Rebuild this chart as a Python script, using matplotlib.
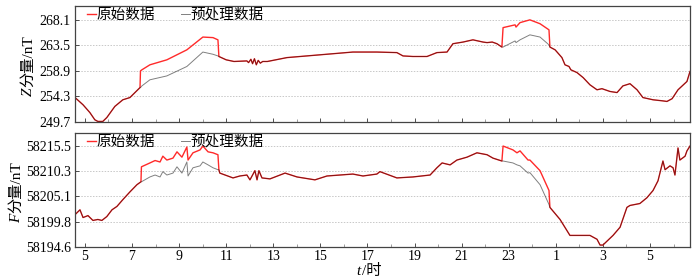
import matplotlib
matplotlib.use("Agg")
import matplotlib.pyplot as plt
import numpy as np
from matplotlib.ticker import FixedLocator, FuncFormatter

plt.rcParams['font.family'] = ['Liberation Serif', 'Noto Sans CJK SC']
plt.rcParams['axes.unicode_minus'] = False

# ---- Z component (hours since 0:00 of first day, nT) ----
# shared part before the first disturbance
z_t1 = [4.58, 4.92, 5.21, 5.42, 5.55, 5.76, 5.93, 6.27, 6.61, 6.91, 7.34]
z_v1 = [254.1, 252.8, 251.4, 250.1, 249.8, 249.8, 250.5, 252.5, 253.7, 254.1, 255.9]
# disturbed section 1
z_t2 = [7.36, 7.42, 7.76, 8.48, 9.33, 10.01, 10.44, 10.65, 10.69]
z_raw2 = [258.9, 259.1, 260.0, 260.9, 262.7, 265.0, 264.9, 264.5, 261.5]
z_pre2 = [255.9, 256.2, 257.3, 258.0, 259.7, 262.3, 261.9, 261.6, 261.5]
# shared middle part
z_t3 = [11.00, 11.33, 11.88, 11.95, 12.05, 12.12, 12.20, 12.28, 12.36, 12.45, 12.55,
        12.75, 13.58, 14.98, 16.38, 17.40, 18.25, 18.51, 18.93, 19.53, 19.95, 20.38,
        20.63, 21.06, 21.48, 21.91, 22.08, 22.30, 22.50, 22.71]
z_v3 = [260.9, 260.6, 260.7, 260.4, 261.0, 260.2, 261.1, 260.0, 260.8, 260.3, 260.6,
        260.6, 261.3, 261.8, 262.3, 262.3, 262.2, 261.6, 261.5, 261.5, 262.2, 262.3,
        263.8, 264.1, 264.5, 264.1, 264.0, 264.1, 263.8, 263.2]
# disturbed section 2
z_t4 = [22.76, 23.27, 23.31, 23.48, 23.90, 24.33, 24.71, 24.75]
z_raw4 = [266.7, 267.2, 266.8, 267.6, 268.1, 267.4, 266.3, 263.2]
z_pre4 = [263.2, 264.3, 264.0, 264.5, 265.4, 265.0, 263.6, 263.2]
# shared end part
z_t5 = [24.97, 25.26, 25.39, 25.56, 25.64, 25.90, 26.16, 26.45, 26.75, 26.96, 27.30,
        27.60, 27.85, 28.15, 28.45, 28.70, 29.13, 29.55, 29.72, 29.94, 30.19, 30.57, 30.70]
z_v5 = [262.7, 261.3, 260.0, 259.7, 259.1, 258.6, 257.7, 256.4, 255.5, 255.7, 255.2,
        255.0, 256.2, 256.6, 255.5, 254.1, 253.7, 253.5, 253.4, 253.9, 255.5, 257.0, 258.8]

# ---- F component ----
f_t1 = [4.58, 4.79, 4.92, 5.13, 5.34, 5.55, 5.72, 5.93, 6.15, 6.36, 6.61, 6.91, 7.21, 7.38]
f_v1 = [58201.3, 58202.3, 58200.7, 58201.1, 58200.1, 58200.3, 58200.1, 58200.9, 58202.3,
        58203.0, 58204.4, 58206.0, 58207.5, 58208.1]
f_t2 = [7.40, 7.76, 7.98, 8.19, 8.31, 8.48, 8.74, 8.91, 9.12, 9.33, 9.38, 9.59, 9.89,
        10.01, 10.23, 10.44, 10.65, 10.69]
f_raw2 = [58211.2, 58212.0, 58212.5, 58212.2, 58213.4, 58212.6, 58213.0, 58214.3, 58213.2,
          58215.3, 58212.6, 58214.1, 58214.7, 58215.5, 58214.3, 58214.1, 58213.7, 58210.6]
f_pre2 = [58208.1, 58209.1, 58209.5, 58209.1, 58210.2, 58209.5, 58209.9, 58211.2, 58209.9,
          58212.2, 58209.3, 58211.0, 58211.4, 58212.2, 58211.6, 58211.0, 58210.6, 58210.6]
f_t3 = [10.73, 11.29, 11.58, 11.88, 12.01, 12.22, 12.31, 12.39, 12.52, 12.86, 13.50,
        14.01, 14.77, 15.28, 15.83, 16.38, 16.81, 17.40, 17.53, 18.25, 18.93, 19.66,
        19.95, 20.17, 20.51, 20.80, 21.23, 21.65, 22.08, 22.33, 22.71]
f_v3 = [58209.9, 58208.9, 58209.3, 58209.5, 58208.5, 58210.4, 58208.5, 58210.4, 58208.9,
        58208.7, 58209.9, 58209.1, 58208.5, 58209.3, 58209.5, 58209.7, 58209.3, 58209.7,
        58210.2, 58208.9, 58209.1, 58209.5, 58211.0, 58212.0, 58211.6, 58212.6, 58213.2,
        58214.1, 58213.7, 58213.0, 58212.4]
f_t4 = [22.76, 23.18, 23.35, 23.48, 23.82, 23.90, 24.33, 24.71, 24.75]
f_raw4 = [58215.5, 58214.7, 58214.1, 58214.5, 58212.6, 58212.6, 58210.4, 58206.3, 58202.8]
f_pre4 = [58212.4, 58212.0, 58211.6, 58211.4, 58209.9, 58210.0, 58207.5, 58203.4, 58202.8]
f_t5 = [25.18, 25.60, 26.03, 26.45, 26.75, 26.88, 27.00, 27.43, 27.73, 28.02, 28.15,
        28.57, 28.87, 29.13, 29.34, 29.55, 29.64, 29.85, 29.98, 30.06, 30.19, 30.27,
        30.49, 30.57, 30.70]
f_v5 = [58200.3, 58197.0, 58197.0, 58197.0, 58196.2, 58195.0, 58195.0, 58197.0, 58198.7,
        58202.8, 58203.2, 58203.6, 58204.8, 58206.3, 58208.3, 58212.4, 58210.6, 58211.4,
        58211.0, 58209.5, 58215.1, 58212.6, 58213.4, 58214.5, 58215.5]

z_ticks = [249.7, 254.3, 258.9, 263.5, 268.1]
f_ticks = [58194.6, 58199.8, 58205.1, 58210.3, 58215.5]
x_ticks = list(range(5, 31, 2))


def join(parts):
    return np.concatenate([np.asarray(p, dtype=float) for p in parts])


z_t = join([z_t1, z_t2, z_t3, z_t4, z_t5])
z_raw = join([z_v1, z_raw2, z_v3, z_raw4, z_v5])
z_pre = join([z_v1, z_pre2, z_v3, z_pre4, z_v5])
f_t = join([f_t1, f_t2, f_t3, f_t4, f_t5])
f_raw = join([f_v1, f_raw2, f_v3, f_raw4, f_v5])
f_pre = join([f_v1, f_pre2, f_v3, f_pre4, f_v5])

fig = plt.figure(figsize=(6.96, 2.78), dpi=100)
ax1 = fig.add_axes([0.1078, 0.5612, 0.8836, 0.4173])
ax2 = fig.add_axes([0.1078, 0.1115, 0.8836, 0.4101])

panels = [(ax1, z_t, z_raw, z_pre, z_ticks, (249.7, 270.6)),
          (ax2, f_t, f_raw, f_pre, f_ticks, (58194.6, 58218.2))]

for ax, t, raw, pre, yt, ylim in panels:
    ax.plot(t, raw, color='#ff2a2a', lw=1.0, label='原始数据')
    ax.plot(t, pre, color='black', lw=0.7, alpha=0.5, label='预处理数据')
    ax.set_xlim(4.58, 30.70)
    ax.set_ylim(*ylim)
    ax.set_yticks(yt)
    ax.set_yticklabels(['%.1f' % v for v in yt])
    ax.xaxis.set_major_locator(FixedLocator(x_ticks))
    ax.xaxis.set_minor_locator(FixedLocator(list(range(6, 31, 2))))
    ax.xaxis.set_major_formatter(FuncFormatter(lambda v, p: '%d' % (int(round(v)) % 24)))
    ax.grid(axis='y', color='#c8c8c8', linestyle=(0, (1.5, 1.5)), linewidth=0.7)
    ax.tick_params(direction='in', length=3, width=0.6, colors='#333333', labelsize=10,
                   labelcolor='black', pad=3)
    ax.tick_params(axis='x', which='minor', direction='in', length=2, width=0.5, colors='#777777')
    for s in ax.spines.values():
        s.set_color('#444444')
        s.set_linewidth(0.9)
    ax.legend(loc='upper left', ncol=2, frameon=False, fontsize=10.5,
              handlelength=0.6, handletextpad=0.05, columnspacing=1.8,
              borderaxespad=0.0, bbox_to_anchor=(0.01, 1.03))

ax1.tick_params(axis='x', labelbottom=False)
ax2.tick_params(axis='x', pad=2)

# axis labels with an italic symbol in front: two text pieces glued together
fig.canvas.draw()
renderer = fig.canvas.get_renderer()


def vlabel(ax, sym, rest, x_fig):
    y_mid = (ax.get_position().y0 + ax.get_position().y1) / 2 + 0.01
    t_rest = fig.text(x_fig, y_mid, rest, rotation=90, ha='center', va='center', fontsize=11)
    bb = t_rest.get_window_extent(renderer).transformed(fig.transFigure.inverted())
    fig.text(x_fig, bb.y0 - 0.002, sym, rotation=90, ha='center', va='top', fontsize=11,
             family='Liberation Serif', style='italic')


vlabel(ax1, 'Z', '分量/nT', 0.040)
vlabel(ax2, 'F', '分量/nT', 0.024)

x_mid = 372 / 696
t_rest = fig.text(x_mid, 0.0, '/时', ha='center', va='bottom', fontsize=11)
bb = t_rest.get_window_extent(renderer).transformed(fig.transFigure.inverted())
fig.text(bb.x0 - 0.002, 0.0, 't', ha='right', va='bottom', fontsize=11,
         family='Liberation Serif', style='italic')

fig.savefig('out.png', dpi=100)
